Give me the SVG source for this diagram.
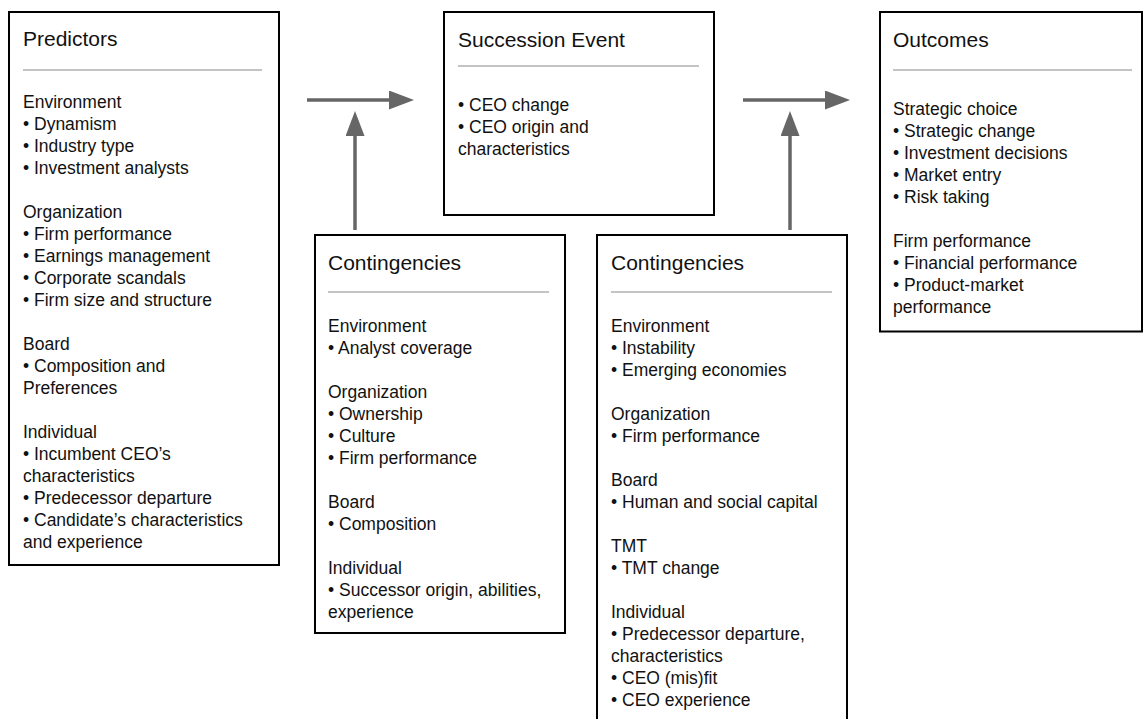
<svg xmlns="http://www.w3.org/2000/svg" width="1144" height="719" viewBox="0 0 1144 719">
<style>
.box{fill:#fff;stroke:#000;stroke-width:2}
.sep{stroke:#888;stroke-width:1}
.title{font-family:"Liberation Sans",Arial,sans-serif;font-size:21px;fill:#111}
.body{font-family:"Liberation Sans",Arial,sans-serif;font-size:17.5px;fill:#111}
.conn{stroke:#666;stroke-width:3.5;fill:none;marker-end:url(#ah)}
</style>
<defs>
<marker id="ah" markerUnits="userSpaceOnUse" markerWidth="26" markerHeight="20" refX="2" refY="9.5" orient="auto">
<path d="M0,0 L25,9.5 L0,19 Z" fill="#666"/>
</marker>
</defs>
<rect width="1144" height="719" fill="#fff"/>

<g id="connectors">
<line class="conn" x1="307" y1="100" x2="391" y2="100"/>
<line class="conn" x1="355" y1="230" x2="355" y2="134"/>
<line class="conn" x1="743" y1="100" x2="827" y2="100"/>
<line class="conn" x1="790" y1="230" x2="790" y2="134"/>
</g>

<g id="predictors">
<rect class="box" x="9" y="12" width="270" height="553"/>
<text class="title" x="23" y="45.5">Predictors</text>
<line class="sep" x1="23" y1="70" x2="262" y2="70"/>
<text class="body">
<tspan x="23" y="107.5">Environment</tspan>
<tspan x="23" y="129.5">• Dynamism</tspan>
<tspan x="23" y="151.5">• Industry type</tspan>
<tspan x="23" y="173.5">• Investment analysts</tspan>
<tspan x="23" y="217.5">Organization</tspan>
<tspan x="23" y="239.5">• Firm performance</tspan>
<tspan x="23" y="261.5">• Earnings management</tspan>
<tspan x="23" y="283.5">• Corporate scandals</tspan>
<tspan x="23" y="305.5">• Firm size and structure</tspan>
<tspan x="23" y="349.5">Board</tspan>
<tspan x="23" y="371.5">• Composition and</tspan>
<tspan x="23" y="393.5">Preferences</tspan>
<tspan x="23" y="437.5">Individual</tspan>
<tspan x="23" y="459.5">• Incumbent CEO’s</tspan>
<tspan x="23" y="481.5">characteristics</tspan>
<tspan x="23" y="503.5">• Predecessor departure</tspan>
<tspan x="23" y="525.5">• Candidate’s characteristics</tspan>
<tspan x="23" y="547.5">and experience</tspan>
</text>
</g>

<g id="succession">
<rect class="box" x="444" y="12" width="270" height="203"/>
<text class="title" x="458" y="46.5">Succession Event</text>
<line class="sep" x1="458" y1="66" x2="699" y2="66"/>
<text class="body">
<tspan x="458" y="111">• CEO change</tspan>
<tspan x="458" y="133">• CEO origin and</tspan>
<tspan x="458" y="155">characteristics</tspan>
</text>
</g>

<g id="contingencies1">
<rect class="box" x="315" y="235" width="250" height="398"/>
<text class="title" x="328" y="270">Contingencies</text>
<line class="sep" x1="328" y1="292" x2="549" y2="292"/>
<text class="body">
<tspan x="328" y="332">Environment</tspan>
<tspan x="328" y="354">• Analyst coverage</tspan>
<tspan x="328" y="398">Organization</tspan>
<tspan x="328" y="420">• Ownership</tspan>
<tspan x="328" y="442">• Culture</tspan>
<tspan x="328" y="464">• Firm performance</tspan>
<tspan x="328" y="508">Board</tspan>
<tspan x="328" y="530">• Composition</tspan>
<tspan x="328" y="574">Individual</tspan>
<tspan x="328" y="596">• Successor origin, abilities,</tspan>
<tspan x="328" y="618">experience</tspan>
</text>
</g>

<g id="contingencies2">
<rect class="box" x="597" y="235" width="250" height="500"/>
<text class="title" x="611" y="270">Contingencies</text>
<line class="sep" x1="611" y1="292" x2="832" y2="292"/>
<text class="body">
<tspan x="611" y="332">Environment</tspan>
<tspan x="611" y="354">• Instability</tspan>
<tspan x="611" y="376">• Emerging economies</tspan>
<tspan x="611" y="420">Organization</tspan>
<tspan x="611" y="442">• Firm performance</tspan>
<tspan x="611" y="486">Board</tspan>
<tspan x="611" y="508">• Human and social capital</tspan>
<tspan x="611" y="552">TMT</tspan>
<tspan x="611" y="574">• TMT change</tspan>
<tspan x="611" y="618">Individual</tspan>
<tspan x="611" y="640">• Predecessor departure,</tspan>
<tspan x="611" y="662">characteristics</tspan>
<tspan x="611" y="684">• CEO (mis)fit</tspan>
<tspan x="611" y="706">• CEO experience</tspan>
</text>
</g>

<g id="outcomes">
<rect class="box" x="880" y="12" width="262" height="319.5"/>
<text class="title" x="893" y="46.5">Outcomes</text>
<line class="sep" x1="893" y1="70" x2="1132" y2="70"/>
<text class="body">
<tspan x="893" y="114.5">Strategic choice</tspan>
<tspan x="893" y="136.5">• Strategic change</tspan>
<tspan x="893" y="158.5">• Investment decisions</tspan>
<tspan x="893" y="180.5">• Market entry</tspan>
<tspan x="893" y="202.5">• Risk taking</tspan>
<tspan x="893" y="246.5">Firm performance</tspan>
<tspan x="893" y="268.5">• Financial performance</tspan>
<tspan x="893" y="290.5">• Product-market</tspan>
<tspan x="893" y="312.5">performance</tspan>
</text>
</g>
</svg>
